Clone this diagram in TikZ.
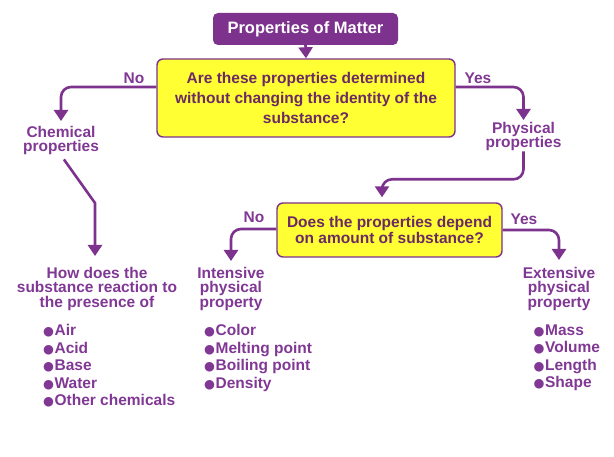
\documentclass[tikz,border=0pt]{standalone}
\usepackage{fontspec}
\setmainfont{Liberation Sans}
\newfontfamily\bulletfont{DejaVu Sans}
\usetikzlibrary{arrows.meta}

\definecolor{matterpurple}{RGB}{125,50,142}
\definecolor{labelpurple}{RGB}{128,56,148}
\definecolor{qtext}{RGB}{108,42,100}
\definecolor{qyellow}{RGB}{255,255,51}

\newcommand{\bul}{{\bulletfont\fontsize{12.5}{12}\selectfont ●}\hspace{0.5pt}}

\tikzset{
  titlebox/.style={fill=matterpurple, rounded corners=5pt, text=white,
    font=\fontsize{16.5}{19}\selectfont\bfseries,
    minimum width=185pt, minimum height=32pt, inner sep=0pt},
  questionbox/.style={draw=matterpurple, line width=1.4pt, fill=qyellow,
    rounded corners=6pt, text=qtext, align=center, inner sep=0pt},
  lbl/.style={text=labelpurple, font=\fontsize{15.5}{14.5}\selectfont\bfseries,
    align=center, inner sep=0pt},
  listtext/.style={text=labelpurple, font=\fontsize{15.5}{17.4}\selectfont\bfseries,
    align=left, inner sep=0pt, anchor=north west},
  flow/.style={draw=matterpurple, line width=2.6pt, rounded corners=10pt,
    -{Triangle[width=14pt,length=11pt]}},
}

\begin{document}
\begin{tikzpicture}[x=1pt,y=-1pt]
    \useasboundingbox (0,0) rectangle (614,457);
    % boxes
    \node[titlebox] (matter) at (305.5,29) {Properties of Matter};
    \node[questionbox, minimum width=298pt, minimum height=78pt,
          font=\fontsize{15.5}{19.6}\selectfont\bfseries] (identity) at (306,98)
          {Are these properties determined\\without changing the identity of the\\substance?};
    \node[questionbox, minimum width=225pt, minimum height=54pt,
          font=\fontsize{15.5}{14}\selectfont\bfseries] (amount) at (389.5,230)
          {Does the properties depend\\on amount of substance?};

    % branch labels
    \node[lbl] (noA) at (134,78) {No};
    \node[lbl] (yesA) at (478,78.5) {Yes};
    \node[lbl] (noB) at (254,217) {No};
    \node[lbl] (yesB) at (524,219.5) {Yes};

    % kinds of property
    \node[lbl, anchor=north] (chemical) at (61,126) {Chemical\\properties};
    \node[lbl, anchor=north] (physical) at (523.5,122) {Physical\\properties};
    \node[lbl, anchor=north] (reaction) at (97,267) {How does the\\substance reaction to\\the presence of};
    \node[lbl, anchor=north] (intensive) at (231,267) {Intensive\\physical\\property};
    \node[lbl, anchor=north] (extensive) at (559,267) {Extensive\\physical\\property};

    % examples
    \node[listtext] (reactlist) at (43,324.5)
          {\bul Air\\\bul Acid\\\bul Base\\\bul Water\\\bul Other chemicals};
    \node[listtext] (intlist) at (204,324.5)
          {\bul Color\\\bul Melting point\\\bul Boiling point\\\bul Density};
    \node[listtext] (extlist) at (533.5,324.5)
          {\bul Mass\\\bul Volume\\\bul Length\\\bul Shape};

    % connectors
    \draw[flow] (matter.south) -- (identity.north);
    \draw[flow, shorten >=5pt] ([yshift=11pt]identity.west) -| (chemical.north);
    \draw[flow, shorten >=2pt] ([yshift=11pt]identity.east) -| (physical.north);
    \draw[flow, sharp corners, shorten <=5pt, shorten >=11pt] (chemical.south)
          -- ([xshift=-2pt,yshift=64pt]reaction.north) -- ([xshift=-2pt]reaction.north);
    \draw[flow] (physical.south) |- ([xshift=-7.5pt,yshift=23pt]amount.north)
          -- ([xshift=-7.5pt,yshift=5pt]amount.north);
    \draw[flow, shorten >=6pt] ([yshift=1pt]amount.west) -| (intensive.north);
    \draw[flow, shorten >=7pt] (amount.east) -| (extensive.north);
\end{tikzpicture}
\end{document}
